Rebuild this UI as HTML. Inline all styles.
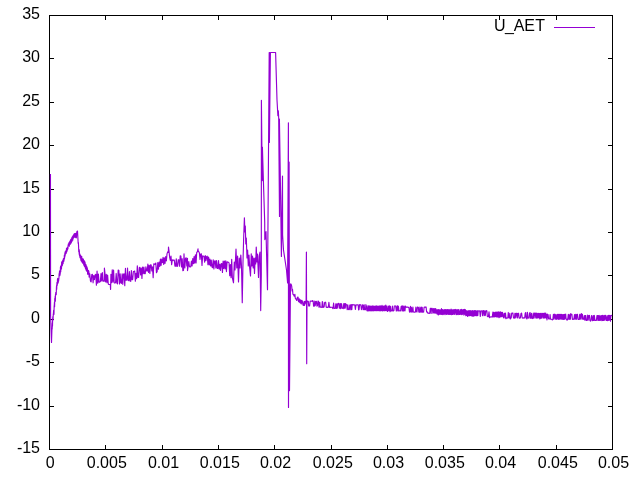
<!DOCTYPE html>
<html><head><meta charset="utf-8"><title>U_AET</title>
<style>
html,body{margin:0;padding:0;background:#fff;}
svg{display:block;}
text{font-family:"Liberation Sans",Arial,sans-serif;font-size:16px;fill:#000;}
</style></head>
<body>
<svg width="640" height="480" viewBox="0 0 640 480">
<rect width="640" height="480" fill="#fff"/>
<path d="M49.5,449.5V445.0M49.5,15.5V20.0M105.5,449.5V445.0M105.5,15.5V20.0M162.5,449.5V445.0M162.5,15.5V20.0M218.5,449.5V445.0M218.5,15.5V20.0M274.5,449.5V445.0M274.5,15.5V20.0M331.5,449.5V445.0M331.5,15.5V20.0M387.5,449.5V445.0M387.5,15.5V20.0M443.5,449.5V445.0M443.5,15.5V20.0M499.5,449.5V445.0M499.5,15.5V20.0M556.5,449.5V445.0M556.5,15.5V20.0M612.5,449.5V445.0M612.5,15.5V20.0M49.5,15.5H54.0M612.5,15.5H608.0M49.5,58.5H54.0M612.5,58.5H608.0M49.5,102.5H54.0M612.5,102.5H608.0M49.5,145.5H54.0M612.5,145.5H608.0M49.5,189.5H54.0M612.5,189.5H608.0M49.5,232.5H54.0M612.5,232.5H608.0M49.5,275.5H54.0M612.5,275.5H608.0M49.5,319.5H54.0M612.5,319.5H608.0M49.5,362.5H54.0M612.5,362.5H608.0M49.5,406.5H54.0M612.5,406.5H608.0M49.5,449.5H54.0M612.5,449.5H608.0" stroke="#000" stroke-width="1" fill="none"/>
<rect x="49.5" y="15.5" width="563.0" height="434.0" fill="none" stroke="#000" stroke-width="1"/>
<path d="M50.45,174 L50.6,316 L51.5,342.5 L51.9,330 L52.2,328.3 L52.35,322.95 L52.5,326 L52.65,318.8 L52.8,317.6 L52.95,316.4 L53.1,320 L53.25,314 L53.4,313.9 L53.55,311.4 L53.7,310.1 L53.85,314.8 L54,313.5 L54.15,305.8 L54.3,305.3 L54.45,302.4 L54.6,306.7 L54.75,299 L54.9,298.04 L55.05,298.28 L55.2,296.12 L55.35,301.16 L55.5,294.2 L55.65,294.44 L55.8,292.28 L55.95,292.52 L56.1,294.8 L56.25,294.5 L56.4,288.2 L56.55,285.5 L56.7,289.14 L56.85,284.56 L57,282.38 L57.15,282.59 L57.3,285.21 L57.45,279.55 L57.6,278.94 L57.75,278.33 L57.9,278.92 L58.05,283.11 L58.2,282.51 L58.35,280.7 L58.5,281.29 L58.65,280.68 L58.8,278.87 L58.95,278.27 L59.1,274.06 L59.25,273.45 L59.4,272.8 L59.55,270.95 L59.7,275.1 L59.85,275.65 L60,273.8 L60.15,274.35 L60.3,272.5 L60.45,267.05 L60.6,266.4 L60.75,271.75 L60.9,266.3 L61.05,269.25 L61.2,265 L61.35,269.15 L61.5,268.5 L61.65,262.13 L61.8,261.75 L61.95,266.18 L62.1,265.2 L62.25,264.83 L62.4,265.25 L62.55,264.88 L62.7,260.5 L62.85,260.13 L63,262.95 L63.15,263.38 L63.3,259 L63.45,258.63 L63.6,261.3 L63.75,261.5 L63.9,260.1 L64.05,260.3 L64.2,258.9 L64.35,255.1 L64.5,258.5 L64.65,257.1 L64.8,254.1 L64.95,252.7 L65.1,256.1 L65.25,251.5 L65.4,251.93 L65.55,253.95 L65.7,251.18 L65.85,250.8 L66,253.63 L66.15,253.25 L66.3,252.88 L66.45,248.5 L66.6,248.93 L66.75,251.75 L66.9,251.38 L67.05,250.2 L67.2,247.42 L67.35,250.25 L67.5,249.07 L67.65,249.5 L67.8,248.32 L67.95,248.75 L68.1,245.17 L68.25,244.8 L68.4,243.73 L68.55,244.26 L68.7,243.99 L68.85,243.72 L69,243.45 L69.15,242.38 L69.3,246.11 L69.45,242.64 L69.6,244.77 L69.75,244.5 L69.9,241.03 L70.05,241.56 L70.2,244.49 L70.35,243.42 L70.5,243.15 L70.65,240.48 L70.8,239.41 L70.95,243.14 L71.1,242.87 L71.25,242.6 L71.4,242.33 L71.55,242.06 L71.7,237.79 L71.85,241.52 L72,241.25 L72.15,237.02 L72.3,237.6 L72.45,236.57 L72.6,237.15 L72.75,240.12 L72.9,236.7 L73.05,235.67 L73.2,238.65 L73.35,235.22 L73.5,235 L73.65,234.77 L73.8,235.35 L73.95,234.32 L74.1,237.3 L74.25,233.87 L74.4,233.65 L74.55,234.22 L74.7,237.2 L74.85,233.77 L75,235.95 L75.15,236.09 L75.3,236.24 L75.45,237.18 L75.6,233.33 L75.75,233.47 L75.9,237.62 L76.05,237.76 L76.2,237.9 L76.35,237.79 L76.5,236.37 L76.65,232.54 L76.8,232.72 L76.95,231.29 L77.1,233.87 L77.5,231 L78,240 L78.15,243.14 L78.3,242.28 L78.45,243.82 L78.6,246.96 L78.75,251.7 L78.9,249.98 L79.05,249.27 L79.2,254.11 L79.35,250.64 L79.5,255.48 L79.65,256.17 L79.8,253.73 L79.95,257.41 L80.1,254.6 L80.25,258.03 L80.4,255.21 L80.55,255.52 L80.7,255.83 L80.85,260.29 L81,256.44 L81.15,256.68 L81.3,261.08 L81.45,260.28 L81.6,256.36 L81.75,256.6 L81.9,261 L82.05,262.28 L82.2,261.48 L82.35,258.6 L82.5,261.96 L82.65,263.24 L82.8,262.44 L82.95,262.68 L83.1,258.76 L83.25,260.04 L83.4,259.24 L83.55,260.52 L83.7,264.92 L83.85,261 L84,264.36 L84.15,261.48 L84.3,265.88 L84.45,260.92 L84.6,266.36 L84.75,265.56 L84.9,261.78 L85.05,262.15 L85.2,267.73 L85.35,263.94 L85.5,268.48 L85.65,264.69 L85.8,269.23 L85.95,268.56 L86.1,264.78 L86.25,270.35 L86.4,270.73 L86.55,271.1 L86.7,266.28 L86.85,267.69 L87,268.07 L87.15,268.44 L87.3,267.78 L87.45,269.19 L87.6,273.73 L87.75,269.94 L87.9,274.43 L88.05,273.73 L88.2,270.94 L88.35,271.27 L88.5,270.57 L88.65,270.9 L88.8,271.23 L88.95,272.61 L89.1,277.1 L89.25,273.27 L89.4,273.61 L89.8,274 L90.46,281.04 L91.12,281.86 L91.78,274.59 L92.44,274.36 L93.1,282.81 L93.76,275.49 L94.42,279.59 L95.08,275 L95.74,274.4 L96.4,285.28 L97.06,271.07 L97.72,283.11 L98.38,274.11 L99.04,282.17 L99.7,282.14 L100.36,281.64 L101.02,273.47 L101.68,281.03 L102.34,272.55 L103,281.21 L103.66,281.11 L104.32,281.28 L104.4,268 L104.98,273.65 L105.64,282.03 L106.3,274.24 L106.96,282.66 L107.62,275.08 L108.28,283.96 L108.94,284.48 L109.6,284.54 L110.26,284.41 L110.6,289.4 L110.92,274.23 L111.58,282.63 L112.24,269.81 L112.9,282.08 L113.56,270.08 L114.22,282.69 L114.88,283.09 L115.54,282.78 L116.2,273.45 L116.86,283.19 L117.52,283.77 L118.18,270.18 L118.84,270.33 L119.5,283.95 L120.16,273.92 L120.82,282.89 L121.48,283.35 L122.14,273.9 L122.8,284.33 L123.46,274.24 L124.12,273.82 L124.78,285.79 L125.44,268.42 L126.1,280.3 L126.76,279.93 L127.42,271.96 L127.5,268 L128.08,280.51 L128.74,280.6 L129.4,271.66 L130.06,280.93 L130.72,281.37 L131.38,270.59 L132.04,279.7 L132.7,279.57 L133.36,271.48 L134.02,271.3 L134.68,271 L135.34,281.18 L136,273.37 L136.66,278.78 L137.32,265.71 L137.98,277.52 L138.64,277.4 L139.3,267.6 L139.96,267.35 L140.62,274.88 L141.28,268.08 L141.94,278.46 L142.6,267.05 L143.26,273.62 L143.92,266.99 L144.58,273.6 L145.24,273.74 L145.9,266.71 L146.56,270.93 L147.22,271.05 L147.88,264.16 L148.54,272.43 L149.2,265.29 L149.86,273.42 L150.52,264.71 L151.18,265.1 L151.84,270.94 L152.5,266.8 L153.16,277.76 L153.82,263.71 L154.48,263.95 L155.14,264.46 L155.8,263.11 L156.46,272.7 L157.12,271.72 L157.78,262.6 L158.44,269.22 L159.1,262.1 L159.76,266.41 L160.42,259.01 L161.08,265.45 L161.74,259.05 L162.4,262.76 L163.06,257.29 L163.72,264.5 L164.38,257.73 L165.04,263.54 L165.7,256.6 L166.36,260.9 L167.02,253.89 L167.68,251.91 L168.34,252.51 L168.5,247 L169,250.95 L169.66,257.43 L170.32,260.34 L170.98,256.16 L171.64,264.73 L172.3,259.92 L172.96,260.42 L173.62,260.02 L174.28,260.02 L174.94,266.16 L175.6,266.2 L176.26,258.85 L176.92,266.36 L177.58,266.21 L178.24,259.88 L178.9,259.79 L179.56,266.11 L180.22,255.74 L180.88,255.95 L181.54,266.95 L182.2,258.7 L182.86,270.63 L183.52,270.52 L184,253.75 L184.18,258.36 L184.84,267.87 L185.5,258.15 L186.16,257.85 L186.82,265.94 L187.48,258.34 L187.5,270.6 L188.14,266.44 L188.8,261.56 L189.46,266.72 L190.12,266.95 L190.78,266.62 L191.44,261.15 L192.1,265.88 L192.76,258.52 L193.42,263.75 L194.08,256.51 L194.74,263.17 L195.4,254.81 L196.06,262.9 L196.72,252.44 L197.38,251.78 L198,248.75 L198.04,250.61 L198.7,251.67 L199.36,252.76 L200.02,259.44 L200.68,254.06 L201.34,253.8 L202,265.46 L202.66,255.72 L203.32,256.01 L203.98,256.25 L204.64,262.19 L205.3,255.5 L205.96,260.58 L206.62,256.55 L207.28,256.22 L207.94,264.79 L208.6,257.01 L209.26,264.86 L209.92,259.17 L210.58,265.92 L211.24,260.01 L211.9,266.91 L212.56,267.65 L213.22,259.89 L213.88,268.87 L214.54,261.02 L215.2,260.76 L215.86,268.04 L216.52,260.67 L217.18,268.35 L217.84,268.41 L218.5,260.67 L219.16,269.07 L219.82,264.26 L220.48,270.44 L221.14,263.89 L221.8,263.6 L222.46,272.44 L223.12,261.1 L223.78,268.36 L224.44,261.09 L225.1,268.87 L225.76,260.74 L226.42,271.57 L227.08,261.92 L227.74,262.06 L228.4,262.33 L229.06,262.93 L229.72,275.74 L230.38,264.52 L231.04,277.6 L231.7,259.22 L232.36,277.96 L233.5,282.8 L234.3,262 L235,270 L236,249 L236.8,268 L237.6,256 L238.5,282 L239.3,258 L240,268 L240.8,255 L241.5,266 L242.25,302.75 L243,262 L243.6,240 L244.4,217.75 L244.9,232 L245.3,226 L245.8,244 L246.3,238 L247,258 L247.6,250 L248.3,266 L249,255 L249.7,268 L250.5,276 L251.25,253.75 L251.9,266 L252.5,256 L253.2,268 L253.9,258 L254.5,273.5 L255.2,258 L255.7,264 L256.25,247 L256.9,262 L257.5,254 L258.5,277.5 L259.2,256 L260,252 L260.7,310.6 L261.3,275 L261.4,100.2 L262.2,180.6 L262.4,147 L263.4,181 L264.7,222 L264.8,239.6 L266,231.5 L267.5,289.75 L268.3,180 L269.2,52.5 L269.6,52.5 L269.4,142.5 L270.4,52.5 L275.6,52.5 L277,100 L277.6,110.5 L277.9,115.6 L278.3,110.8 L278.6,116 L278.7,119 L279.5,216.5 L279.4,119 L280.6,195 L281.4,256.5 L282.5,176 L282.6,235 L283.5,250 L286.5,270 L287.6,283 L288.4,122.8 L288.5,407.5 L289.1,162 L289.5,390.6 L290.5,284 L290.9,283.94 L291.3,284.67 L291.7,286.2 L292.1,290.92 L292.5,289.25 L292.9,293.97 L293.3,294.69 L293.7,294.61 L294.1,296.13 L294.5,296.05 L294.9,294.37 L295.3,298.29 L295.7,299.01 L296.1,298.93 L296.5,300.17 L296.9,300.45 L297.3,297.53 L297.7,297.01 L298.1,297.28 L298.5,301.56 L298.9,301.84 L299.3,298.91 L299.7,302.39 L300.1,302.7 L300.5,299.88 L300.9,303.47 L301.3,303.86 L301.7,300.24 L302.1,300.63 L302.5,301.82 L302.9,304.6 L303.3,305.49 L303.7,304.68 L304.1,301.46 L304.5,305.45 L304.9,301.44 L305.3,301.42 L305.7,302.21 L306.1,304 L306.4,252 L306.7,363.75 L307,303 L307.3,300.99 L307.9,301.34 L308.3,301.32 L308.7,306 L309.1,305.86 L309.6,305.91 L310.2,301.02 L310.8,301.25 L311.4,300.97 L311.8,301.09 L312.3,301.34 L312.7,300.66 L313.2,301.39 L313.6,306.18 L314.2,306.25 L314.8,300.99 L315.2,305.77 L315.8,301.44 L316.4,301.32 L317,306.06 L317.5,305.77 L318,300.96 L318.4,301.21 L319,307.24 L319.4,302.23 L319.8,302.22 L320.2,307.28 L320.7,306.96 L321.3,307.25 L321.9,307.32 L322.3,301.46 L322.7,302.18 L323.1,307.42 L323.5,307.27 L324.1,307.04 L324.6,302.65 L325.2,302.15 L325.7,302.52 L326.2,307.08 L326.8,307.42 L327.3,307.23 L327.8,307.44 L328.3,307.06 L328.9,302.27 L329.5,307.41 L329.9,307.07 L330.5,307.37 L331.1,307.3 L331.5,307.24 L332,307.24 L332.6,308.16 L333,308.64 L333.6,302.98 L334.2,308.17 L334.8,308.48 L335.4,308.25 L335.8,303.81 L336.4,308.47 L336.9,303.73 L337.3,308.28 L337.8,303.71 L338.3,303.65 L338.8,303.37 L339.3,308.2 L339.8,308.26 L340.2,303.57 L340.8,308.64 L341.2,303.7 L341.6,303.83 L342.2,308.29 L342.6,308.23 L343.2,308.65 L343.8,303.55 L344.4,308.16 L344.8,303.62 L345.2,308.27 L345.7,303.69 L346.3,304.71 L346.7,304.83 L347.2,309.74 L347.8,304.87 L348.4,309.5 L349,309.71 L349.4,309.52 L349.8,305.04 L350.4,304.88 L350.8,309.75 L351.4,304.6 L351.8,309.58 L352.2,304.9 L352.8,304.56 L353.3,304.92 L353.8,304.87 L354.2,304.99 L354.8,304.89 L355.4,309.48 L356,304.94 L356.6,304.97 L357.1,304.75 L357.7,305 L358.2,304.79 L358.6,309.83 L359,309.64 L359.6,304.56 L360.1,305.02 L360.5,304.81 L360.9,304.87 L361.4,309.36 L361.9,309.69 L362.5,304.92 L363.1,305.03 L363.6,309.74 L364.2,304.91 L364.6,309.76 L365.1,309.62 L365.5,309.74 L365.9,304.68 L366.4,306.15 L366.9,310.71 L367.4,310.88 L367.9,305.94 L368.3,310.97 L368.9,305.85 L369.3,310.6 L369.7,305.98 L370.1,310.82 L370.7,306.14 L371.3,310.87 L371.8,306.02 L372.4,310.61 L372.8,305.82 L373.3,311 L373.9,306.02 L374.5,310.78 L375.1,305.98 L375.6,310.59 L376.2,305.76 L376.6,310.72 L377,306.2 L377.4,310.61 L377.8,305.99 L378.4,310.69 L378.9,306.16 L379.4,310.72 L379.9,305.81 L380.3,310.84 L380.9,305.95 L381.5,310.57 L382,305.44 L382.5,310.94 L383.1,306.06 L383.7,310.59 L384.1,306.13 L384.5,310.76 L384.9,305.93 L385.3,310.68 L385.8,305.04 L386.4,310.58 L387,306.04 L387.5,311.46 L388.1,310.63 L388.6,305.99 L389,310.55 L389.6,305.79 L390,311.63 L390.4,306.21 L390.9,310.98 L391.5,310.88 L392,310.57 L392.4,306.16 L392.8,310.85 L393.3,311.02 L393.9,310.62 L394.3,306.06 L394.8,305.98 L395.3,305.9 L395.7,306.15 L396.3,311.04 L396.7,310.76 L397.1,306.05 L397.5,305.75 L398,311.01 L398.4,306.2 L399,310.95 L399.6,310.72 L400,310.74 L400.6,310.85 L401.2,306.21 L401.8,306.15 L402.2,311 L402.8,305.85 L403.2,310.9 L403.7,310.94 L404.1,306 L404.5,310.59 L405,310.81 L405.4,306.19 L406,307.08 L406.5,307.33 L407.1,306.97 L407.5,306.96 L407.9,307.18 L408.3,307.41 L408.9,307.23 L409.5,312 L409.9,312.23 L410.5,306.36 L411,311.76 L411.4,307.32 L411.9,312.13 L412.3,312.05 L412.9,307.08 L413.3,311.97 L413.7,311.98 L414.1,312.17 L414.5,312.19 L414.9,312.21 L415.4,311.98 L415.9,307.01 L416.4,311.78 L417,311.97 L417.4,307.03 L417.9,307.35 L418.4,307.4 L418.8,312.07 L419.4,312.13 L419.9,307.07 L420.3,312.2 L420.7,311.82 L421.3,307.12 L421.7,312.22 L422.2,307.41 L422.6,312.17 L423.2,311.85 L423.6,312.12 L424.1,307.28 L424.7,307.05 L425.1,307.37 L425.5,307.09 L426.1,306.96 L426.6,311.87 L427.2,311.83 L427.7,313.13 L428.2,313.13 L428.6,313.11 L429.2,313.4 L429.7,313.2 L430.3,308.22 L430.7,308.24 L431.1,313.43 L431.5,308.25 L431.9,308.38 L432.3,308.58 L432.9,313.18 L433.5,308.59 L434.1,313.02 L434.7,308.62 L435.1,313.16 L435.7,308.62 L436.2,313.12 L436.7,309.84 L437.2,314.18 L437.8,309.53 L438.3,314.92 L438.7,309.6 L439.1,314.35 L439.6,309.79 L440,314.28 L440.6,309.75 L441,314.41 L441.5,308.69 L442,314.45 L442.6,309.65 L443,314.59 L443.5,309.72 L444.1,314.26 L444.6,309.58 L445.2,314.56 L445.6,309.61 L446.1,309.81 L446.5,314.43 L447,309.46 L447.4,314.18 L447.9,309.54 L448.4,314.41 L449,309.52 L449.5,314.46 L450,309.72 L450.6,314.5 L451.1,309.01 L451.7,314.65 L452.1,309.79 L452.7,314.5 L453.2,309.55 L453.8,314.15 L454.4,309.57 L454.8,314.37 L455.3,309.81 L455.8,309.47 L456.3,314.61 L456.7,309.8 L457.2,314.41 L457.8,309.58 L458.2,314.62 L458.8,309.55 L459.4,314.44 L459.8,314.37 L460.4,309.7 L461,314.31 L461.4,309.41 L461.9,314.65 L462.4,309.76 L462.8,314.24 L463.4,309.63 L464,315.08 L464.4,309.35 L464.9,314.16 L465.3,309.63 L465.8,315.61 L466.2,310.61 L466.6,315.36 L467,310.96 L467.6,316.46 L468.1,310.69 L468.5,315.8 L469.1,310.86 L469.5,315.64 L469.9,310.67 L470.3,315.44 L470.7,310.7 L471.3,315.84 L471.7,310.91 L472.1,315.71 L472.5,310.64 L473,316.51 L473.5,310.82 L474,315.83 L474.5,310.67 L474.9,315.57 L475.4,310.63 L476,315.62 L476.4,310.95 L476.8,315.71 L477.3,310.7 L477.8,315.58 L478.2,310.82 L478.7,310.99 L479.1,310.98 L479.7,310.88 L480.3,316.43 L480.9,310.71 L481.5,311.01 L482.1,310.91 L482.5,315.71 L483,310.78 L483.6,310.62 L484.1,315.75 L484.7,310.88 L485.3,315.55 L485.9,310.69 L486.5,310.57 L486.9,310.93 L487.3,316.23 L487.9,316.66 L488.4,316.77 L489,311.81 L489.6,317.7 L490.2,316.89 L490.6,317.01 L491.2,316.92 L491.8,316.81 L492.3,317.02 L492.9,311.98 L493.3,316.89 L493.7,312.23 L494.3,317.03 L494.9,312.23 L495.3,316.65 L495.8,311.99 L496.3,316.81 L496.8,312.1 L497.2,316.83 L497.7,311.96 L498.1,317.04 L498.6,311.89 L499.1,317.72 L499.6,311.97 L500,316.83 L500.5,311.76 L501,317.04 L501.6,312.23 L502.1,316.55 L502.5,312.22 L503.1,316.56 L503.6,317.84 L504.2,313.29 L504.6,313.32 L505.1,317.93 L505.5,313.13 L506,318.75 L506.6,317.95 L507,318 L507.4,318.06 L507.8,317.97 L508.3,312.45 L508.7,317.77 L509.3,317.96 L509.8,313.31 L510.3,318.95 L510.7,317.9 L511.2,318.03 L511.7,313.18 L512.3,313.44 L512.9,312.98 L513.5,318.03 L514,318.07 L514.5,318.07 L514.9,313.3 L515.3,313.24 L515.8,317.97 L516.3,313.39 L516.9,313.37 L517.5,317.88 L518,313.22 L518.6,313.38 L519.2,318.18 L519.8,318.22 L520.4,317.8 L521,313.43 L521.6,313.14 L522.2,317.94 L522.6,317.98 L523,318.19 L523.6,317.81 L524.2,318.12 L524.7,317.76 L525.2,313.32 L525.7,312.53 L526.1,318.05 L526.5,317.88 L526.9,318.96 L527.4,312.29 L527.9,317.9 L528.5,318.04 L529,318.15 L529.5,313.03 L530.1,312.65 L530.5,318.09 L531,318.1 L531.5,313.26 L531.9,317.91 L532.3,318.55 L532.8,317.98 L533.3,313.19 L533.7,318.24 L534.1,317.82 L534.6,313.08 L535.2,312.97 L535.8,317.85 L536.3,313.13 L536.8,318.15 L537.2,313.33 L537.8,317.87 L538.4,313.3 L539,317.99 L539.5,313.45 L539.9,318.91 L540.4,313.34 L540.8,318.11 L541.3,313.42 L541.8,318.21 L542.4,313.44 L542.9,313.31 L543.3,317.84 L543.8,313.3 L544.2,318.2 L544.7,313.05 L545.3,317.77 L545.7,313.12 L546.1,318.07 L546.5,314.26 L547,319.91 L547.6,314.18 L548.1,314.64 L548.6,318.96 L549.1,318.98 L549.7,319.03 L550.1,314.53 L550.5,319.12 L551.1,319.28 L551.7,319.26 L552.3,319.99 L552.9,319.18 L553.4,314.29 L553.9,319.28 L554.4,314.35 L554.8,314.21 L555.4,319.25 L556,314.52 L556.4,319.3 L556.9,319.27 L557.4,314.26 L557.8,318.98 L558.4,314.33 L558.8,319.41 L559.4,314.28 L559.9,319.13 L560.4,314.3 L560.9,319.03 L561.4,314.39 L561.8,319.25 L562.3,314.54 L562.9,319.38 L563.3,314.62 L563.9,319.44 L564.3,314.4 L564.8,319.29 L565.2,314.48 L565.7,314.17 L566.1,318.96 L566.5,319.17 L566.9,320.12 L567.3,319.19 L567.7,319.78 L568.3,314.4 L568.7,314.63 L569.1,319.43 L569.5,319.04 L570,314.25 L570.4,319.13 L570.8,313.66 L571.3,314.64 L571.9,314.31 L572.4,319.33 L572.9,319.27 L573.3,319.08 L573.9,319.36 L574.5,314.54 L575.1,319.11 L575.7,314.38 L576.3,319.38 L576.9,314.34 L577.5,314.33 L577.9,319.26 L578.5,319.35 L579.1,319.37 L579.7,314.44 L580.1,319.13 L580.5,319.07 L580.9,314.24 L581.5,313.62 L582,319.08 L582.4,314.41 L582.9,319.15 L583.4,319.19 L583.8,319.29 L584.3,315.66 L584.9,320.16 L585.3,315.65 L585.8,315.51 L586.2,320.41 L586.7,320.36 L587.2,320.17 L587.7,315.01 L588.2,320.28 L588.6,315.81 L589,315.64 L589.4,315.39 L589.9,320.4 L590.5,321.17 L591,320.37 L591.5,315.55 L591.9,315.69 L592.5,320.61 L593,320.53 L593.4,315.64 L593.8,320.53 L594.4,315.45 L594.9,320.5 L595.4,320.35 L595.8,320.32 L596.4,320.42 L597,315.48 L597.5,315.56 L597.9,320.34 L598.4,315.62 L598.9,320.5 L599.3,315.45 L599.9,320.31 L600.5,315.76 L600.9,320.3 L601.5,315.66 L602,320.59 L602.4,315.41 L602.8,320.45 L603.2,315.72 L603.6,320.49 L604.1,315.43 L604.7,320.2 L605.1,315.48 L605.6,315.38 L606.2,320.37 L606.6,320.5 L607.2,315.51 L607.6,320.64 L608.1,320.23 L608.6,315.4 L609.1,320.32 L609.6,315.41 L610,315.61 L610.5,321.26 L610.9,315.5 L611.5,315.42 L612,315.8" fill="none" stroke="#9400d3" stroke-width="1.15" stroke-linejoin="round" stroke-linecap="butt"/>
<path d="M554,27.5H595" stroke="#9400d3" stroke-width="1" fill="none"/>
<text x="50.1" y="467.5" text-anchor="middle">0</text><text x="106.8" y="467.5" text-anchor="middle">0.005</text><text x="163.5" y="467.5" text-anchor="middle">0.01</text><text x="219.8" y="467.5" text-anchor="middle">0.015</text><text x="275.5" y="467.5" text-anchor="middle">0.02</text><text x="332.8" y="467.5" text-anchor="middle">0.025</text><text x="388.5" y="467.5" text-anchor="middle">0.03</text><text x="444.8" y="467.5" text-anchor="middle">0.035</text><text x="500.5" y="467.5" text-anchor="middle">0.04</text><text x="557.8" y="467.5" text-anchor="middle">0.045</text><text x="613.5" y="467.5" text-anchor="middle">0.05</text><text x="40" y="18.5" text-anchor="end">35</text><text x="40" y="61.5" text-anchor="end">30</text><text x="40" y="105.5" text-anchor="end">25</text><text x="40" y="148.5" text-anchor="end">20</text><text x="40" y="192.5" text-anchor="end">15</text><text x="40" y="235.5" text-anchor="end">10</text><text x="40" y="278.5" text-anchor="end">5</text><text x="40" y="322.5" text-anchor="end">0</text><text x="40" y="365.5" text-anchor="end">-5</text><text x="40" y="409.5" text-anchor="end">-10</text><text x="40" y="452.5" text-anchor="end">-15</text><text x="494 505.05 513.85 524.25 535.15" y="31">U_AET</text>
</svg>
</body></html>
